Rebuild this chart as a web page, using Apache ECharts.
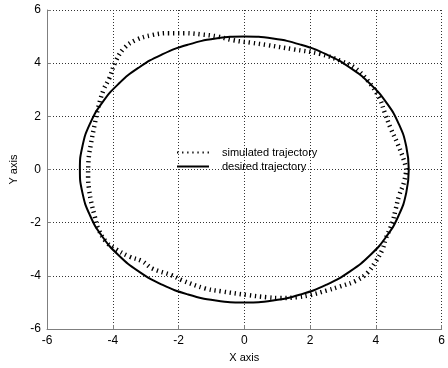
<!DOCTYPE html>
<html>
<head>
<meta charset="utf-8">
<script src="https://cdn.jsdelivr.net/npm/echarts@6/dist/echarts.min.js"></script>
<style>html,body{margin:0;padding:0;background:#fff}#c{width:448px;height:368px}</style>
</head>
<body>
<div id="c"></div>
<script>
var xTicks = [-6, -4, -2, 0, 2, 4, 6];
var yTicks = [-6, -4, -2, 0, 2, 4, 6];
var seriesNames = ['simulated trajectory', 'desired trajectory'];

var simulated = [
  [4.93, 0], [4.84, 0.4], [4.65, 1.0], [4.45, 1.55], [4.28, 2.1], [4.1, 2.7],
  [3.75, 3.35], [3.35, 3.83], [2.9, 4.1], [2.3, 4.35], [1.5, 4.52], [0.7, 4.68],
  [0.2, 4.77], [-0.33, 4.86], [-0.8, 5.0], [-1.3, 5.08], [-1.8, 5.13], [-2.3, 5.13],
  [-2.8, 5.06], [-3.3, 4.87], [-3.65, 4.57], [-3.9, 4.1], [-4.1, 3.45], [-4.28, 3.0],
  [-4.45, 2.3], [-4.55, 1.7], [-4.66, 1.0], [-4.74, 0.3], [-4.75, -0.3], [-4.72, -0.75],
  [-4.66, -1.2], [-4.55, -1.75], [-4.45, -2.2], [-4.2, -2.72], [-3.9, -3.0], [-3.5, -3.27],
  [-3.1, -3.45], [-2.8, -3.72], [-2.2, -3.98], [-1.9, -4.16], [-1.2, -4.47], [-0.7, -4.58],
  [0.1, -4.72], [0.68, -4.8], [1.07, -4.83], [1.6, -4.8], [2.0, -4.72], [2.5, -4.55],
  [2.9, -4.4], [3.4, -4.18], [3.73, -3.9], [4.0, -3.45], [4.2, -3.0], [4.3, -2.6],
  [4.5, -2.0], [4.6, -1.5], [4.7, -1.0], [4.85, -0.5], [4.93, 0]
];

var desired = [
  [5, 0], [4.924, 0.868], [4.698, 1.710], [4.330, 2.5], [3.830, 3.214], [3.214, 3.830],
  [2.5, 4.330], [1.710, 4.698], [0.868, 4.924], [0, 5], [-0.868, 4.924], [-1.710, 4.698],
  [-2.5, 4.330], [-3.214, 3.830], [-3.830, 3.214], [-4.330, 2.5], [-4.698, 1.710], [-4.924, 0.868],
  [-5, 0], [-4.924, -0.868], [-4.698, -1.710], [-4.330, -2.5], [-3.830, -3.214], [-3.214, -3.830],
  [-2.5, -4.330], [-1.710, -4.698], [-0.868, -4.924], [0, -5], [0.868, -4.924], [1.710, -4.698],
  [2.5, -4.330], [3.214, -3.830], [3.830, -3.214], [4.330, -2.5], [4.698, -1.710], [4.924, -0.868],
  [5, 0]
];

var font = 'Liberation Sans, Arial, sans-serif';
var chart = echarts.init(document.getElementById('c'), null, {renderer: 'canvas'});
function axisCommon(ticks, name, nameGap) {
  return {
    type: 'value',
    min: ticks[0],
    max: ticks[ticks.length - 1],
    interval: ticks[1] - ticks[0],
    name: name,
    nameLocation: 'middle',
    nameGap: nameGap,
    nameTextStyle: {color: '#000', fontFamily: font, fontSize: 11},
    axisLine: {show: true, onZero: false, lineStyle: {color: '#7f7f7f', width: 1}},
    axisTick: {show: true, inside: true, length: 4, lineStyle: {color: '#7f7f7f'}},
    axisLabel: {color: '#000', fontFamily: font, fontSize: 12, margin: 6},
    splitLine: {show: true, lineStyle: {color: '#333', type: [1, 2], width: 1}}
  };
}
chart.setOption({
  animation: false,
  backgroundColor: '#fff',
  grid: {left: 42, right: 2, top: 10, bottom: 37, containLabel: false},
  xAxis: axisCommon(xTicks, 'X axis', 22),
  yAxis: axisCommon(yTicks, 'Y axis', 28),
  legend: {
    data: seriesNames,
    orient: 'vertical',
    left: 171,
    top: 142,
    itemWidth: 32,
    itemHeight: 10,
    itemGap: 3,
    itemStyle: {opacity: 0},
    textStyle: {color: '#000', fontFamily: font, fontSize: 11, padding: [0, 0, 0, 8]}
  },
  series: [
    {
      name: seriesNames[0], type: 'line', data: simulated, smooth: 0.4,
      symbol: 'none', showSymbol: false,
      lineStyle: {color: '#000', width: 4.5, type: [1.3, 3.8]},
      itemStyle: {color: '#000'}
    },
    {
      name: seriesNames[1], type: 'line', data: desired, smooth: 0.5,
      symbol: 'none', showSymbol: false,
      lineStyle: {color: '#000', width: 2},
      itemStyle: {color: '#000'}
    }
  ]
});
</script>
</body>
</html>
